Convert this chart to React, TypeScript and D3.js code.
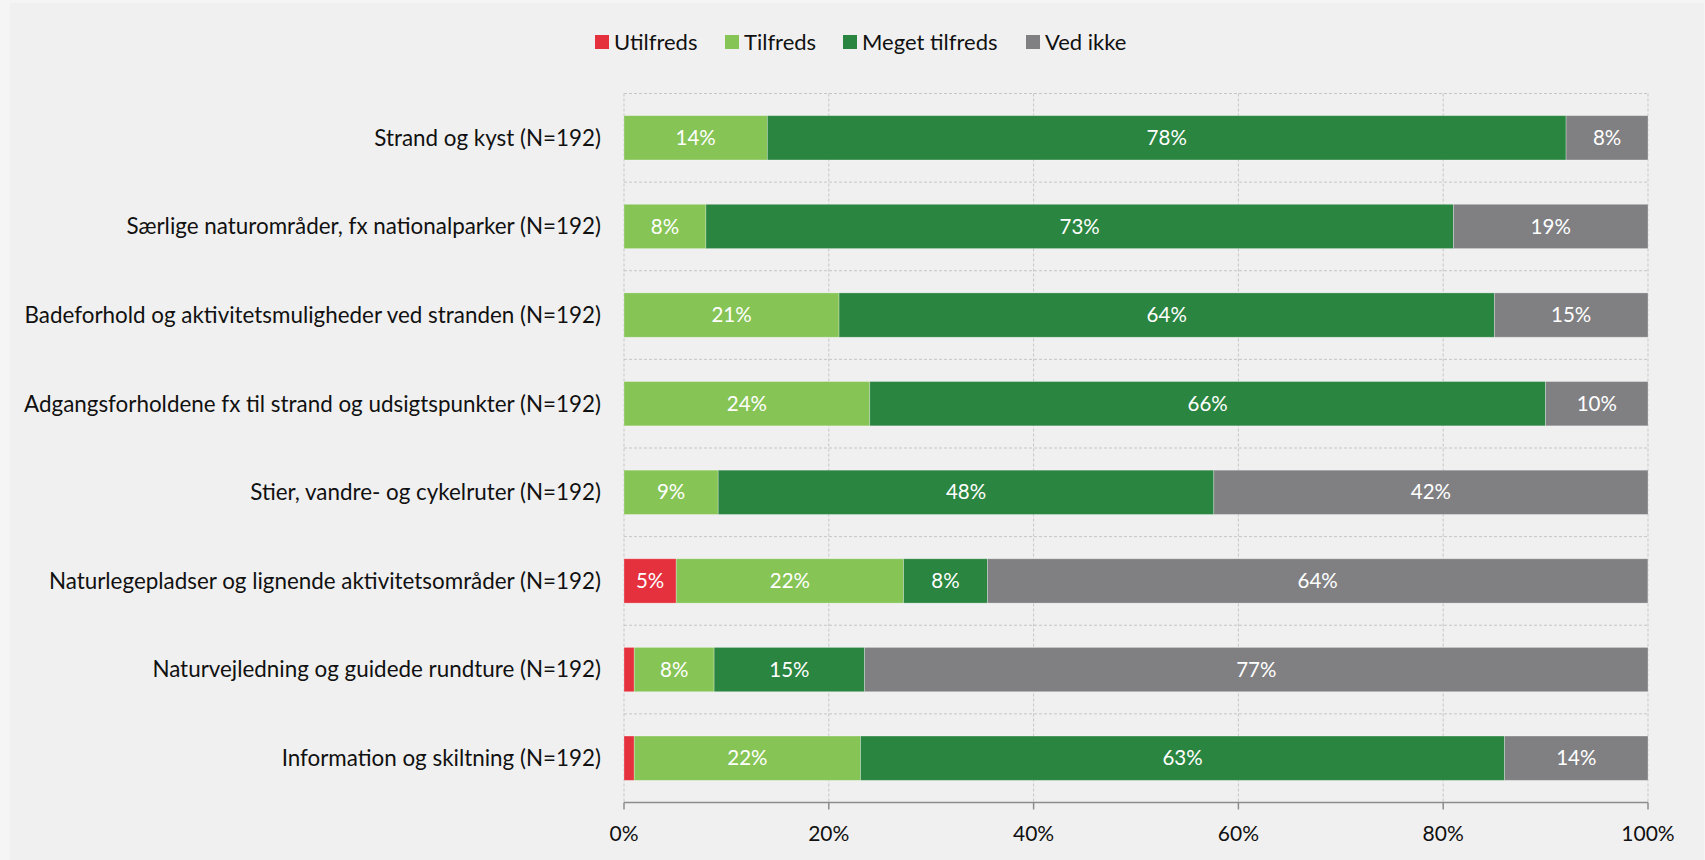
import React from "react";
import * as d3 from "d3";

const categories = [
  "Strand og kyst (N=192)",
  "Særlige naturområder, fx nationalparker (N=192)",
  "Badeforhold og aktivitetsmuligheder ved stranden (N=192)",
  "Adgangsforholdene fx til strand og udsigtspunkter (N=192)",
  "Stier, vandre- og cykelruter (N=192)",
  "Naturlegepladser og lignende aktivitetsområder (N=192)",
  "Naturvejledning og guidede rundture (N=192)",
  "Information og skiltning (N=192)",
];

const seriesNames = ["Utilfreds", "Tilfreds", "Meget tilfreds", "Ved ikke"];
const seriesColors = ["#e5303d", "#86c455", "#2a8540", "#808083"];

const utilfreds = [0, 0, 0, 0, 0, 5.1, 1.0, 1.0];
const tilfreds = [14, 8, 21, 24, 9.2, 22.2, 7.8, 22.1];
const megetTilfreds = [78, 73, 64, 66, 48.4, 8.2, 14.7, 62.9];
const vedIkke = [8, 19, 15, 10, 42.4, 64.49, 76.5, 14.0];

const xTicks = [0, 20, 40, 60, 80, 100];

const W = 1705;
const H = 860;
const FONT = "Lato, 'Open Sans', sans-serif";

export default function App() {
  const series = [utilfreds, tilfreds, megetTilfreds, vedIkke];
  const x = d3.scaleLinear().domain([0, 100]).range([624, 1648]);
  const y = d3
    .scaleBand<string>()
    .domain(categories)
    .range([93.5, 802.5])
    .paddingInner(0.5)
    .paddingOuter(0.25);
  const step = y.step();
  const top = 93.5;
  const bottom = 802.5;

  const rows = categories.map((c, i) => {
    let acc = 0;
    return series.map((s, k) => {
      const v = s[i];
      const seg = { k, x0: acc, x1: acc + v, v };
      acc += v;
      return seg;
    });
  });

  const legendX = [595, 725, 843, 1026];

  return (
    <svg
      width={W}
      height={H}
      style={{ position: "absolute", left: 0, top: 0, display: "block" }}
    >
      <rect x={0} y={0} width={W} height={H} fill="#f5f5f5" />
      <rect x={10} y={3} width={W - 11} height={H - 3} fill="#f0f0f0" />

      {/* legend */}
      {seriesNames.map((n, k) => (
        <g key={n}>
          <rect x={legendX[k]} y={35} width={14} height={14} fill={seriesColors[k]} />
          <text
            x={legendX[k] + 19}
            y={49.5}
            fontFamily={FONT}
            fontSize={22}
            fill="#111"
          >
            {n}
          </text>
        </g>
      ))}

      {/* vertical gridlines */}
      {xTicks.map((t) => (
        <line
          key={"vg" + t}
          x1={x(t)}
          x2={x(t)}
          y1={top}
          y2={bottom}
          stroke="#c6c6c6"
          strokeWidth={1}
          strokeDasharray="3,2"
        />
      ))}
      {/* horizontal gridlines at band boundaries */}
      {categories.map((c, i) => (
        <line
          key={"hg" + i}
          x1={x(0)}
          x2={x(100)}
          y1={top + i * step}
          y2={top + i * step}
          stroke="#c6c6c6"
          strokeWidth={1}
          strokeDasharray="3,2"
        />
      ))}

      {/* bars */}
      {rows.map((segs, i) => {
        const yy = y(categories[i])!;
        const bh = y.bandwidth();
        return (
          <g key={"r" + i}>
            {segs.map((s) =>
              s.v > 0 ? (
                <rect
                  key={s.k}
                  x={x(s.x0)}
                  y={yy}
                  width={x(s.x1) - x(s.x0)}
                  height={bh}
                  fill={seriesColors[s.k]}
                  stroke="rgba(255,255,255,0.35)"
                  strokeWidth={0.8}
                />
              ) : null
            )}
            {segs.map((s) =>
              s.v >= 3 ? (
                <text
                  key={"t" + s.k}
                  x={(x(s.x0) + x(s.x1)) / 2}
                  y={yy + bh / 2}
                  dy="0.35em"
                  textAnchor="middle"
                  fontFamily={FONT}
                  fontSize={20.5}
                  fill="#ffffff"
                >
                  {Math.round(s.v) + "%"}
                </text>
              ) : null
            )}
            <text
              x={601}
              y={yy + bh / 2}
              dy="0.35em"
              textAnchor="end"
              fontFamily={FONT}
              fontSize={22.4}
              fill="#111"
            >
              {categories[i]}
            </text>
          </g>
        );
      })}

      {/* x axis */}
      <line x1={x(0)} x2={x(100)} y1={bottom} y2={bottom} stroke="#8c8c8c" strokeWidth={1.5} />
      {xTicks.map((t) => (
        <g key={"xt" + t}>
          <line x1={x(t)} x2={x(t)} y1={bottom} y2={bottom + 7} stroke="#8c8c8c" strokeWidth={1.5} />
          <text
            x={x(t)}
            y={841}
            textAnchor="middle"
            fontFamily={FONT}
            fontSize={21}
            fill="#111"
          >
            {t + "%"}
          </text>
        </g>
      ))}
    </svg>
  );
}
